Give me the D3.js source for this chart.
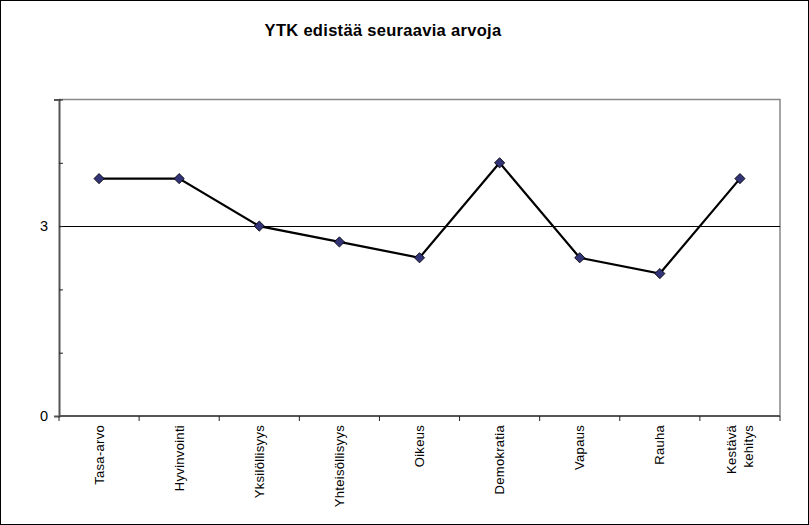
<!DOCTYPE html>
<html><head><meta charset="utf-8">
<script src="https://cdn.jsdelivr.net/npm/d3@7"></script>
<style>body{margin:0;background:#fff}svg{display:block}text{font-family:"Liberation Sans",Arial,sans-serif}</style>
</head><body>
<script>
const categories = [["Tasa-arvo"],["Hyvinvointi"],["Yksilöllisyys"],["Yhteisöllisyys"],["Oikeus"],["Demokratia"],["Vapaus"],["Rauha"],["Kestävä","kehitys"]];
const values = [3.75, 3.75, 3.0, 2.75, 2.5, 4.0, 2.5, 2.25, 3.75];
const yTickLabels = [0, 3];
const yMinorTicks = [0,1,2,3,4,5];
const title = "YTK edistää seuraavia arvoja";

const W=809,H=525;
const svg=d3.select("body").append("svg").attr("width",W).attr("height",H);
svg.append("rect").attr("x",0.5).attr("y",0.5).attr("width",W-1).attr("height",H-1).attr("fill","#fff").attr("stroke","#000");

const L=59,R=780,T=99.5,B=416;
const x=d3.scaleBand().domain(d3.range(categories.length)).range([L,R]);
const y=d3.scaleLinear().domain([0,5]).range([B,T]);

// plot border top/right
svg.append("path").attr("d",`M${L},${T}H${R}V${B}`).attr("fill","none").attr("stroke","#888").attr("stroke-width",1.5);

// gridline at 3
svg.append("g").selectAll("line").data(yTickLabels.filter(d=>d>0)).join("line")
 .attr("x1",L).attr("x2",R).attr("y1",d=>Math.round(y(d))+0.5).attr("y2",d=>Math.round(y(d))+0.5).attr("stroke","#000");

// y axis
const ya=svg.append("g").attr("transform",`translate(${L},0)`)
 .call(d3.axisLeft(y).tickValues(yMinorTicks).tickSize(5).tickFormat(d=>yTickLabels.includes(d)?d:""));
ya.select(".domain").attr("stroke","#555").attr("stroke-width",2);
ya.selectAll(".tick line").attr("stroke","#222").attr("x2",4);
ya.selectAll(".tick text").attr("font-size",14.5).attr("fill","#000").attr("dx",-3);

// x axis
const xa=svg.append("g").attr("transform",`translate(0,${B})`);
xa.append("line").attr("x1",L).attr("x2",R).attr("stroke","#555").attr("stroke-width",2);
xa.selectAll("line.t").data(d3.range(categories.length+1)).join("line").attr("class","t")
 .attr("x1",i=>L+i*x.step()).attr("x2",i=>L+i*x.step()).attr("y1",0).attr("y2",5).attr("stroke","#222");
const lab=xa.selectAll("text").data(categories).join("text")
 .attr("transform",(d,i)=>`translate(${x(i)+x.bandwidth()/2},9) rotate(-90)`)
 .attr("text-anchor","end").attr("font-size",13).attr("letter-spacing",0.3).attr("fill","#000");
lab.selectAll("tspan").data(d=>d.map((s,j)=>({s,j,n:d.length}))).join("tspan")
 .attr("x",0).attr("y",d=>(d.j-(d.n-1)/2)*18).attr("dy","0.35em").text(d=>d.s);

// line
const cx=i=>x(i)+x.bandwidth()/2;
svg.append("path").datum(values).attr("d",d3.line().x((d,i)=>cx(i)).y(d=>y(d)))
 .attr("fill","none").attr("stroke","#000").attr("stroke-width",2.2);
svg.append("g").selectAll("path").data(values).join("path")
 .attr("d",d3.symbol(d3.symbolSquare,52))
 .attr("transform",(d,i)=>`translate(${cx(i)},${y(d)}) rotate(45)`)
 .attr("fill","#333377").attr("stroke","#000").attr("stroke-width",0.8);

svg.append("text").attr("x",383).attr("y",36).attr("text-anchor","middle")
 .attr("font-size",16.5).attr("letter-spacing",0.3).attr("font-weight","bold").text(title);
</script>
</body></html>
